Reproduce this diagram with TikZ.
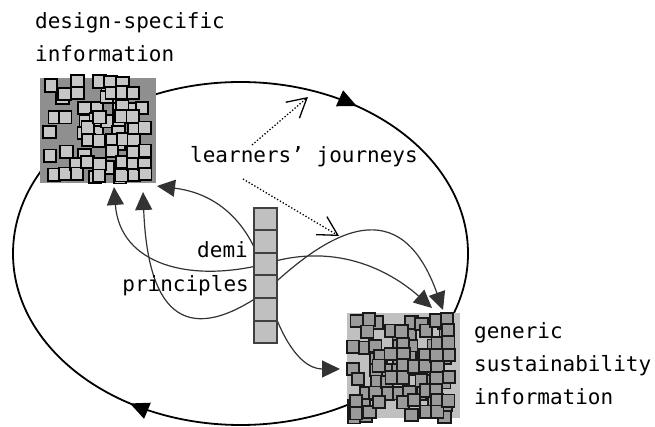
\documentclass[tikz,border=0pt]{standalone}
\usepackage{fontspec}
\setmonofont{DejaVu Sans Mono}
\usetikzlibrary{arrows.meta,decorations.markings,positioning}

\definecolor{blockdark}{HTML}{8F8F8F}
\definecolor{blocklight}{HTML}{C0C0C0}
\definecolor{sqlight}{HTML}{C6C6C6}
\definecolor{sqdark}{HTML}{9A9A9A}
\definecolor{linkgray}{HTML}{333333}

% a patch of overlapping little squares, #1,#2 = first centre, #3 = style
\newcommand{\squarefield}[3]{%
  \foreach \ox/\oy/\prob in {-3.5/3.5/0.5,0/0/0.55}{
    \foreach \i in {0,...,8}{
      \foreach \j in {0,...,8}{
        \pgfmathtruncatemacro\keep{rnd<\prob}
        \ifnum\keep=1
          \pgfmathsetmacro\sx{#1+\i*11.4+(\ox)+1.2*rand}
          \pgfmathsetmacro\sy{#2+\j*11.6+(\oy)+1.2*rand}
          \draw[#3] (\sx-6.2,\sy-6.2) rectangle (\sx+6.2,\sy+6.2);
        \fi
      }
    }
  }
}

\tikzset{
  lbl/.style={font=\ttfamily\fontsize{21}{33}\selectfont, inner sep=0pt, align=left},
  cycleline/.style={line width=1.8pt, postaction={decorate},
    decoration={markings,
      mark=at position 0.34 with {\arrow{Triangle[length=19pt,width=17pt]}},
      mark=at position 0.845 with {\arrow{Triangle[length=19pt,width=17pt]}}}},
  link/.style={linkgray, line width=1.2pt, {Triangle[length=18pt,width=17pt]}-{Triangle[length=18pt,width=17pt]}},
  journey/.style={line width=1.3pt, dotted, -{Straight Barb[length=19pt,width=21pt]}},
  dsblock/.style={fill=blockdark, minimum width=116pt, minimum height=105pt, inner sep=0pt},
  gsblock/.style={fill=blocklight, minimum width=113pt, minimum height=105pt, inner sep=0pt},
  dssquare/.style={fill=sqlight, draw=black, line width=1.8pt},
  gssquare/.style={fill=sqdark, draw=black!90, line width=1.8pt},
  cell/.style={fill=blocklight, draw=black!75, line width=2pt, minimum width=23pt, minimum height=22.5pt, inner sep=0pt}
}

\begin{document}
\begin{tikzpicture}[x=1pt,y=-1pt]
\useasboundingbox (0,0) rectangle (655,427);

% the big cycle
\draw[cycleline] (240.5,253.5) ellipse [x radius=227.5, y radius=171.5];

% ends of the links
\coordinate (d1) at (114,187);
\coordinate (d2) at (143,192);
\coordinate (d3) at (157,186);
\coordinate (g1) at (432,308);
\coordinate (g2) at (443,310);
\coordinate (g3) at (340,369);

\draw[link] (d1) .. controls (120,265) and (190,283) .. (265,264)
            .. controls (340,240) and (395,275) .. (g1);
\draw[link] (d2) .. controls (148,320) and (190,345) .. (265,292)
            .. controls (330,230) and (400,190) .. (g2);
\draw[link] (d3) .. controls (230,195) and (257,240) .. (265,280)
            .. controls (273,320) and (295,369) .. (g3);

% demi principles column
\foreach \k in {1,...,6}
  \node[cell] (c\k) at (265.5,196.75+\k*22.5) {};
\node[lbl, anchor=base east] (demi) at (248,258) {demi};
\node[lbl, anchor=base east] (principles) at (249,291) {principles};

% information blocks
\node[dsblock] (design) at (98,130.5) {};
\pgfmathsetseed{3}
\squarefield{54}{82}{dssquare}
\node[gsblock] (generic) at (403.5,365.5) {};
\pgfmathsetseed{11}
\squarefield{357}{320}{gssquare}

\node[lbl, anchor=north west] (designtxt) at (35,12.5) {design-specific\\information};
\node[lbl, anchor=north west] (generictxt) at (474,322.5) {generic\\sustainability\\information};

% learners' journeys
\node[lbl, anchor=base west] (journeys) at (190,163) {learners’ journeys};
\coordinate (j1) at (252,145);
\coordinate (j2) at (308,97);
\coordinate (j3) at (243,179);
\coordinate (j4) at (339,236);
\draw[journey] (j1) -- (j2);
\draw[journey] (j3) -- (j4);
\end{tikzpicture}
\end{document}
